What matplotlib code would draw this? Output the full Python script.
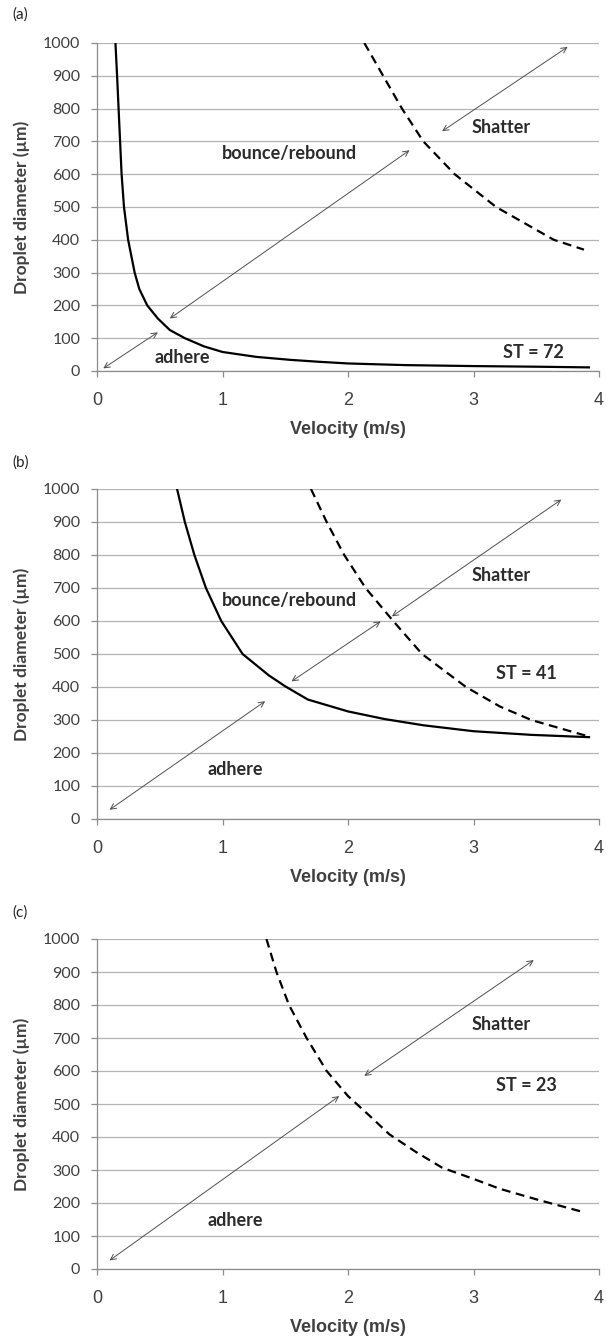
import matplotlib.pyplot as plt

# panel (a), ST = 72
vel_a_solid = [0.147, 0.16, 0.172, 0.184, 0.196, 0.215, 0.248, 0.30, 0.337, 0.40, 0.485, 0.58,
               0.70, 0.853, 1.0, 1.27, 1.54, 1.773, 2.0, 2.45, 3.0, 3.52, 3.92]
dia_a_solid = [1000, 900, 800, 700, 600, 500, 400, 300, 250, 200, 160, 125,
               100, 75, 58, 43, 34, 28, 23, 18, 15, 13, 11]
vel_a_dash = [2.13, 2.28, 2.43, 2.6, 2.85, 3.18, 3.64, 3.88]
dia_a_dash = [1000, 900, 800, 700, 600, 500, 400, 370]

# panel (b), ST = 41
vel_b_solid = [0.638, 0.70, 0.776, 0.868, 0.99, 1.16, 1.37, 1.5, 1.68, 2.0, 2.29, 2.6, 3.0, 3.46, 3.92]
dia_b_solid = [1000, 900, 800, 700, 600, 500, 435, 402, 362, 326, 303, 284, 266, 255, 248]
vel_b_dash = [1.705, 1.83, 1.97, 2.14, 2.36, 2.59, 2.94, 3.21, 3.46, 3.9]
dia_b_dash = [1000, 900, 800, 700, 600, 500, 400, 341, 300, 252]

# panel (c), ST = 23
vel_c_dash = [1.35, 1.43, 1.53, 1.67, 1.83, 2.0, 2.17, 2.33, 2.54, 2.75, 3.0, 3.21, 3.52, 3.88]
dia_c_dash = [1000, 900, 800, 700, 600, 524, 465, 408, 355, 307, 273, 243, 209, 172]

# double arrows: (x1, y1, x2, y2)
arrows_a = [(0.05, 8, 0.485, 118), (0.58, 160, 2.49, 673), (2.75, 731, 3.75, 988)]
arrows_b = [(0.1, 28, 1.34, 357), (1.55, 417, 2.26, 599), (2.35, 614, 3.7, 968)]
arrows_c = [(0.1, 26, 1.93, 524), (2.13, 585, 3.48, 936)]

# region labels: (text, x, y)
labels_a = [("bounce/rebound", 1.53, 664), ("Shatter", 3.22, 741), ("adhere", 0.68, 40), ("ST = 72", 3.48, 55)]
labels_b = [("bounce/rebound", 1.53, 662), ("Shatter", 3.22, 737), ("ST = 41", 3.42, 442), ("adhere", 1.1, 150)]
labels_c = [("Shatter", 3.22, 740), ("ST = 23", 3.42, 555), ("adhere", 1.1, 148)]

W, H = 606, 1340
fig = plt.figure(figsize=(W / 100, H / 100), dpi=100)

# pixel boxes: (top, bottom) of each plot area
boxes = [(43, 371), (489, 819), (939, 1269)]
tags = ["(a)", "(b)", "(c)"]
tag_y = [15, 463, 913]

panels = [
    ([(vel_a_solid, dia_a_solid)], [(vel_a_dash, dia_a_dash)], arrows_a, labels_a),
    ([(vel_b_solid, dia_b_solid)], [(vel_b_dash, dia_b_dash)], arrows_b, labels_b),
    ([], [(vel_c_dash, dia_c_dash)], arrows_c, labels_c),
]

arial = "Liberation Sans"
calib = "Lato"
grey = "#404040"

for (top, bot), tag, ty, (solids, dashes, arrows, labels) in zip(boxes, tags, tag_y, panels):
    left, right = 97, 599
    ax = fig.add_axes([left / W, 1 - bot / H, (right - left) / W, (bot - top) / H])
    ax.set_xlim(0, 4)
    ax.set_ylim(0, 1000)
    ax.set_xticks(range(0, 5))
    ax.set_yticks(range(0, 1001, 100))
    ax.grid(axis="y", color="#b4b4b4", linewidth=0.9)
    ax.set_axisbelow(True)
    for s in ["top", "right"]:
        ax.spines[s].set_visible(False)
    for s in ["left", "bottom"]:
        ax.spines[s].set_color("#8c8c8c")
        ax.spines[s].set_linewidth(0.9)
    ax.tick_params(direction="out", length=4, width=0.9, color="#8c8c8c", labelcolor=grey)
    ax.tick_params(axis="x", pad=11, labelsize=13)
    ax.tick_params(axis="y", pad=8, labelsize=11.5)
    for t in ax.get_xticklabels():
        t.set_fontfamily(arial)
    for t in ax.get_yticklabels():
        t.set_fontfamily(calib)

    for vx, dy in solids:
        ax.plot(vx, dy, color="black", linewidth=1.6, solid_joinstyle="round")
    for vx, dy in dashes:
        ax.plot(vx, dy, color="black", linewidth=1.6, linestyle=(0, (4, 2.5)))

    for x1, y1, x2, y2 in arrows:
        ax.annotate("", xy=(x2, y2), xytext=(x1, y1),
                    arrowprops=dict(arrowstyle="<->", color="#505050", lw=0.7,
                                    shrinkA=0, shrinkB=0, mutation_scale=10))

    for txt, x, y in labels:
        ax.text(x, y, txt, ha="center", va="center", fontsize=13,
                fontweight="bold", family=calib, color="#2b2b2b")

    ax.set_xlabel("Velocity (m/s)", fontsize=13, fontweight="bold",
                  family=arial, color=grey, labelpad=9)
    ax.set_ylabel("Droplet diameter (\u00b5m)", fontsize=12.5, fontweight="bold",
                  family=calib, color=grey, labelpad=9)

    fig.text(12 / W, 1 - ty / H, tag, fontsize=11, family=calib,
             va="center", ha="left", color="#222222")

fig.savefig("out.png", dpi=100)
